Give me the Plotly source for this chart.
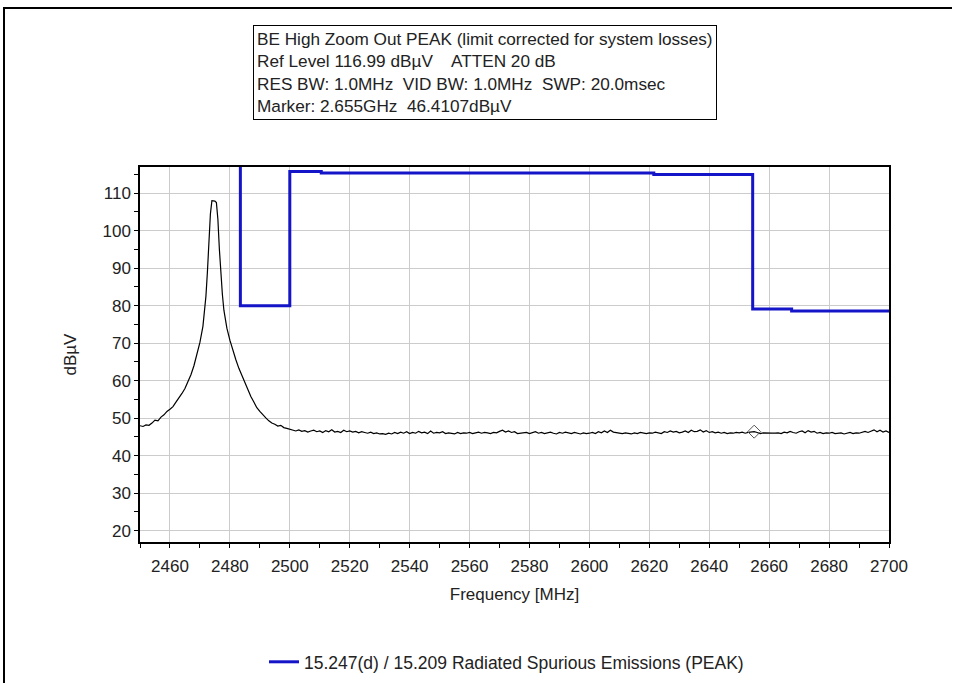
import plotly.graph_objects as go

# ---------------- data ----------------
# measured trace: peak region (explicit frequencies, MHz) and values (dBuV)
peak_freq = [2450, 2451, 2452, 2453, 2454, 2455, 2456, 2457, 2458, 2459,
             2460, 2461, 2462, 2463, 2464, 2465, 2466, 2467, 2468, 2469,
             2470, 2471, 2471.5, 2472, 2472.5, 2473, 2473.5, 2474, 2474.5, 2475,
             2475.5, 2476, 2476.5, 2477, 2477.5, 2478, 2479, 2480, 2481, 2482,
             2483, 2484, 2485, 2486, 2487, 2488, 2489, 2490, 2491, 2492,
             2493, 2494, 2495, 2496, 2497, 2498, 2499, 2500]
peak_level = [48.0, 47.8, 48.2, 48.1, 48.7, 49.5, 49.3, 50.3, 50.9, 51.8,
              52.4, 53.1, 54.3, 55.3, 56.6, 57.9, 59.6, 61.6, 64.0, 66.8,
              70.2, 74.5, 78.0, 82.5, 89.0, 97.0, 104.5, 108.0, 108.0, 107.9,
              107.5, 103.0, 95.0, 88.0, 83.0, 78.8, 74.0, 70.8, 68.0, 65.6,
              63.3, 61.3, 59.4, 57.7, 55.8, 54.3, 52.8, 51.8, 50.8, 50.1,
              49.3, 48.7, 48.4, 47.9, 48.1, 47.5, 47.3, 47.1]

# noise floor 2501..2700 MHz (1 MHz steps)
floor_start = 2501
floor_level = [
    47.0, 46.6, 46.9, 46.5, 46.7, 46.3, 46.6, 46.8, 46.4, 46.6,
    46.2, 46.7, 46.4, 46.9, 46.3, 46.5, 46.2, 46.8, 46.4, 46.6,
    46.3, 46.5, 46.1, 46.4, 46.2, 46.0, 46.3, 45.9, 46.1, 45.8,
    45.9, 45.7, 46.0, 45.8, 46.2, 45.9, 46.3, 46.0, 46.4, 45.9,
    46.2, 46.0, 46.5, 46.1, 46.3, 45.9, 46.6, 46.0, 46.2, 46.1,
    46.4, 45.9, 46.1, 46.0, 45.8, 46.2, 45.9, 46.1, 46.0, 46.2,
    45.9, 46.1, 46.3, 46.0, 46.2, 46.1, 45.9, 46.2, 46.1, 46.5,
    46.8, 46.3, 46.6, 46.2, 46.4, 45.9, 46.0, 46.1, 46.2, 45.9,
    46.1, 46.4, 46.0, 46.2, 45.9, 46.1, 46.3, 46.0, 45.8, 46.2,
    46.0, 46.3, 46.1, 45.9, 46.2, 46.0, 45.8, 46.1, 45.9, 46.0,
    46.2, 45.9, 46.4, 46.1, 46.6, 46.2, 46.8, 46.3, 46.1, 46.0,
    45.9, 46.1, 46.0, 45.8, 46.1, 45.9, 46.2, 46.0, 45.9, 46.1,
    46.0, 46.3, 46.1, 45.9, 46.4, 46.2, 46.6, 46.3, 46.5, 46.1,
    46.3, 46.6, 46.2, 46.8, 46.4, 46.5, 46.9, 46.3, 46.7, 46.2,
    46.4, 46.1, 46.3, 46.0, 46.2, 45.9, 46.1, 46.0, 46.2, 46.1,
    46.3, 46.0, 46.2, 46.4, 46.41, 46.2, 45.9, 46.1, 46.0, 46.0,
    46.0, 46.0, 46.1, 45.9, 46.3, 46.1, 46.5, 46.2, 46.0, 46.4,
    46.6, 46.1, 46.7, 46.3, 46.5, 46.0, 46.2, 45.9, 46.1, 46.0,
    46.2, 45.9, 46.0, 46.1, 45.8, 46.0, 46.2, 45.9, 46.1, 46.0,
    46.3, 46.5, 46.2, 46.6, 46.9, 46.4, 46.8, 46.3, 46.6, 46.2,
]

# limit line (step): start frequency of each step and its level
limit_freq = [2483.5, 2483.5, 2500.0, 2510.5, 2621.5, 2654.5, 2667.5, 2700.0]
limit_level = [125.0, 80.0, 115.8, 115.4, 115.0, 79.1, 78.6, 78.6]
limit_name = "15.247(d) / 15.209 Radiated Spurious Emissions (PEAK)"

marker_freq = [2655]
marker_level = [46.41]

x_ticks = [2460, 2480, 2500, 2520, 2540, 2560, 2580, 2600, 2620, 2640, 2660, 2680, 2700]
y_ticks = [20, 30, 40, 50, 60, 70, 80, 90, 100, 110]

info_lines = [
    "BE High Zoom Out PEAK (limit corrected for system losses)",
    "Ref Level 116.99 dBµV    ATTEN 20 dB",
    "RES BW: 1.0MHz  VID BW: 1.0MHz  SWP: 20.0msec",
    "Marker: 2.655GHz  46.4107dBµV",
]

# ---------------- figure ----------------
trace_freq = peak_freq + [floor_start + i for i in range(len(floor_level))]
trace_level = peak_level + floor_level

FONT = "Liberation Sans, Arial, sans-serif"

fig = go.Figure()
fig.add_trace(go.Scatter(x=trace_freq, y=trace_level, mode="lines",
                         line=dict(color="black", width=1.2), showlegend=False,
                         name="Trace"))
fig.add_trace(go.Scatter(x=limit_freq, y=limit_level, mode="lines",
                         line=dict(color="#1414c8", width=3, shape="hv"),
                         name=limit_name, showlegend=True))
fig.add_trace(go.Scatter(x=marker_freq, y=marker_level, mode="markers",
                         marker=dict(symbol="diamond-open", size=10,
                                     color="#555555", line=dict(width=1)),
                         showlegend=False, name="Marker"))

L, R, T, B = 140, 65, 167, 141
W, H = 954, 683
pw, ph = W - L - R, H - T - B


def px(x):
    return (x - L) / pw


def py(y):
    return (H - B - y) / ph


fig.update_layout(
    width=W, height=H,
    margin=dict(l=L, r=R, t=T, b=B),
    paper_bgcolor="white", plot_bgcolor="white",
    font=dict(family=FONT, size=17, color="#222222"),
    xaxis=dict(range=[2450, 2700], tickvals=x_ticks, showgrid=True,
               gridcolor="#cccccc", gridwidth=1, showline=True, linecolor="black",
               linewidth=1.5, mirror=True, ticks="outside", ticklen=4,
               tickcolor="black", ticklabelstandoff=4,
               minor=dict(dtick=10, ticks="outside", ticklen=4, tickcolor="black",
                          showgrid=False),
               tickfont=dict(size=17), zeroline=False,
               title=dict(text="Frequency [MHz]", font=dict(size=17), standoff=13)),
    yaxis=dict(range=[16.99, 116.99], tickvals=y_ticks, showgrid=True,
               gridcolor="#cccccc", gridwidth=1, showline=True, linecolor="black",
               linewidth=1.5, mirror=True, ticks="outside", ticklen=4,
               tickcolor="black",
               minor=dict(dtick=5, ticks="outside", ticklen=4, tickcolor="black",
                          showgrid=False),
               tickfont=dict(size=17), zeroline=False,
               title=dict(text="dBµV", font=dict(size=17), standoff=22)),
    legend=dict(orientation="h", x=px(264), xanchor="left",
                yref="container", y=0.0045, yanchor="bottom",
                font=dict(size=17.5), bgcolor="rgba(0,0,0,0)"),
    showlegend=True,
)

fig.add_annotation(xref="paper", yref="paper", x=px(253), y=py(25),
                   xanchor="left", yanchor="top", align="left",
                   text="<br>".join(info_lines), showarrow=False,
                   font=dict(size=17.2, color="#222222"),
                   bordercolor="black", borderwidth=1, borderpad=3,
                   bgcolor="white")

# outer frame (top and left edges)
fig.add_shape(type="line", xref="paper", yref="paper",
              x0=px(3), x1=px(952), y0=py(8), y1=py(8),
              line=dict(color="black", width=2))
fig.add_shape(type="line", xref="paper", yref="paper",
              x0=px(4), x1=px(4), y0=py(8), y1=py(683),
              line=dict(color="black", width=2))

fig.write_html("out.html", config={"displayModeBar": False},
               post_script="document.body.style.margin='0';")
